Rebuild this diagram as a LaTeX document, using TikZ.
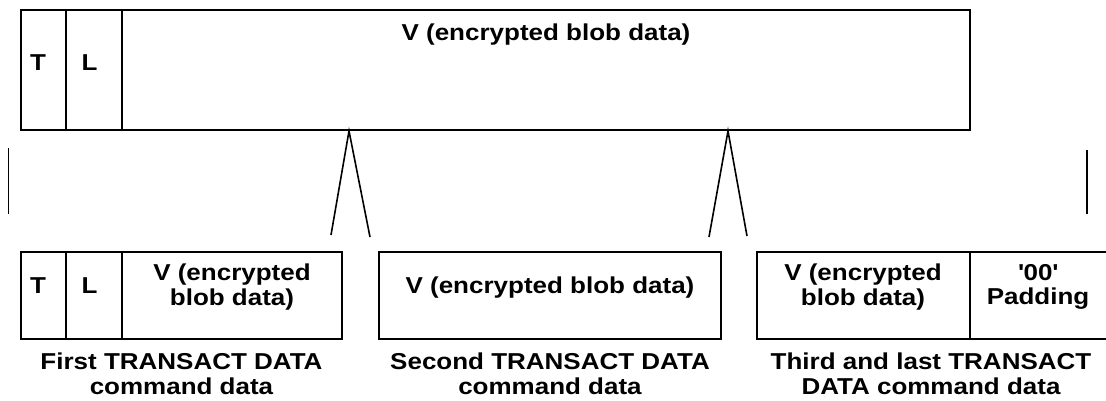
\documentclass[tikz,border=0pt]{standalone}
\usepackage{fontspec}
\setmainfont{Liberation Sans}[FakeStretch=1.13]
\begin{document}
\begin{tikzpicture}[x=1pt,y=-1pt,
  cell/.style={draw, line width=2.2pt, inner sep=0pt, outer sep=0pt, anchor=north west},
  txt/.style={font=\bfseries\fontsize{23}{24.5}\selectfont, align=center, inner sep=0pt},
  wedge/.style={line width=1.6pt},
  side/.style={line width=1.6pt}]
\useasboundingbox (0,0) rectangle (1106,400);
% top block
\node[cell, minimum width=45pt, minimum height=120pt] (tT) at (21,10) {};
\node[cell, minimum width=56pt, minimum height=120pt] (tL) at (tT.north east) {};
\node[cell, minimum width=848pt, minimum height=120pt] (tV) at (tL.north east) {};
\node[txt, anchor=base] (tTt) at (38,70) {T};
\node[txt, anchor=base] (tLt) at (89.5,70) {L};
\node[txt, anchor=base] (tVt) at (546,40) {V (encrypted blob data)};
% side marks
\coordinate (sl1) at (8.5,148); \coordinate (sl2) at (8.5,214);
\coordinate (sr1) at (1087,150); \coordinate (sr2) at (1087,214);
\draw[side] (sl1) -- (sl2);
\draw[side] (sr1) -- (sr2);
% first command
\node[cell, minimum width=45pt, minimum height=87pt] (aT) at (21,252) {};
\node[cell, minimum width=56pt, minimum height=87pt] (aL) at (aT.north east) {};
\node[cell, minimum width=220pt, minimum height=87pt] (aV) at (aL.north east) {};
\node[txt, anchor=base] (aTt) at (38,293) {T};
\node[txt, anchor=base] (aLt) at (89.5,293) {L};
\node[txt, anchor=north] (aVt) at (232,264) {V (encrypted\\blob data)};
\node[txt, anchor=north] (aLab) at (181.5,353) {First TRANSACT DATA\\command data};
% second command
\node[cell, minimum width=342pt, minimum height=87pt] (bV) at (379,252) {};
\node[txt, anchor=base] (bVt) at (550,293) {V (encrypted blob data)};
\node[txt, anchor=north] (bLab) at (550,353) {Second TRANSACT DATA\\command data};
% third command
\node[cell, minimum width=213pt, minimum height=87pt] (cV) at (757,252) {};
\coordinate (cE1) at (1112,252); \coordinate (cE2) at (1112,339);
\draw[line width=2.2pt] (cV.north east) -- (cE1);
\draw[line width=2.2pt] (cV.south east) -- (cE2);
\node[txt, anchor=north] (cVt) at (863,264) {V (encrypted\\blob data)};
\node[txt, anchor=north] (cPt) at (1038,264) {\textquotesingle 00\textquotesingle\\Padding};
\node[txt, anchor=north] (cLab) at (931,353) {Third and last TRANSACT\\DATA command data};
% wedges
\coordinate (w1a) at (349,131); \coordinate (w1l) at (331,235); \coordinate (w1r) at (370,237);
\coordinate (w2a) at (728,131); \coordinate (w2l) at (709,237); \coordinate (w2r) at (747,236);
\draw[wedge] (w1l) -- (w1a) -- (w1r);
\draw[wedge] (w2l) -- (w2a) -- (w2r);
\end{tikzpicture}
\end{document}
